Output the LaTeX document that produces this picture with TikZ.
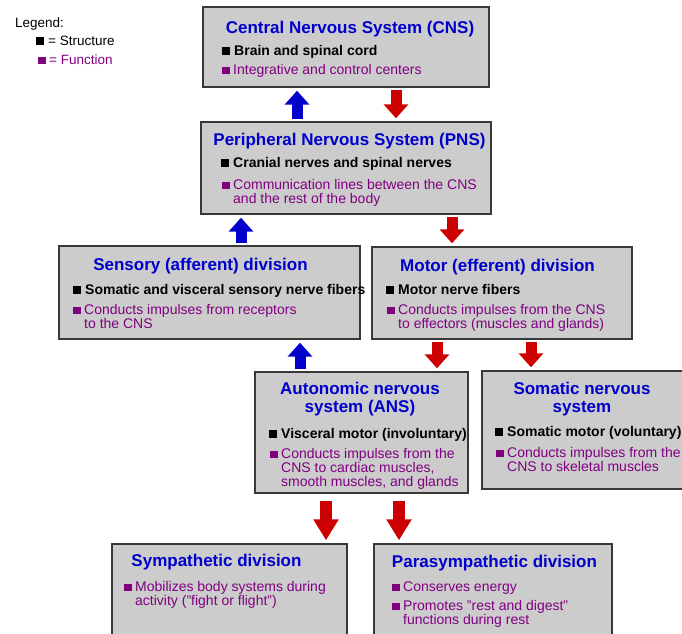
\documentclass[tikz,border=0pt]{standalone}
\usepackage{fontspec}
\setmainfont{Liberation Sans}
\usetikzlibrary{arrows.meta}
\definecolor{ttlblue}{RGB}{0,0,204}
\definecolor{funpurple}{RGB}{128,0,128}
\definecolor{upblue}{RGB}{0,0,204}
\definecolor{dnred}{RGB}{204,0,0}
\definecolor{boxgray}{RGB}{204,204,204}
\newcommand{\sbul}{\llap{\rule{8pt}{8pt}\hspace{4pt}}}
\newcommand{\fbul}{\llap{\textcolor{funpurple}{\rule{7.5pt}{7.5pt}}\hspace{3.5pt}}}

\begin{document}
\begin{tikzpicture}[x=1pt,y=-1pt]
    \tikzstyle{box}=[draw=black!78,line width=1.4pt,fill=boxgray,inner sep=0pt];
    \tikzstyle{ttl}=[anchor=base,inner sep=0pt,align=center,text=ttlblue,font=\fontsize{17}{18}\selectfont\bfseries];
    \tikzstyle{strc}=[anchor=base west,inner sep=0pt,font=\fontsize{14}{14}\selectfont\bfseries];
    \tikzstyle{func}=[anchor=base west,inner sep=0pt,align=left,text=funpurple,font=\fontsize{14}{14}\selectfont];
    \tikzstyle{lgd}=[anchor=base west,inner sep=0pt,font=\fontsize{13.5}{14}\selectfont];
    \tikzstyle{uparr}=[draw=upblue,line width=11pt,-{Triangle[width=24pt,length=14pt]},shorten <=2pt,shorten >=3pt];
    \tikzstyle{dnarr}=[draw=dnred,line width=11pt,-{Triangle[width=24pt,length=14pt]},shorten <=2pt,shorten >=3pt];
    \tikzstyle{bigdn}=[draw=dnred,line width=12pt,-{Triangle[width=24pt,length=21pt]},shorten <=7pt,shorten >=3pt];

    \useasboundingbox (0,0) rectangle (682,633);
    \clip (0,0) rectangle (682,633);

    \node[lgd] (lgd-t) at (15,27) {Legend:};
    \node[lgd] (lgd-s) at (48,45) {\sbul= Structure};
    \node[lgd,text=funpurple] (lgd-f) at (49,64) {\fbul= Function};

    \node[box,minimum width=286,minimum height=80] (cns) at (346,47) {};
    \node[box,minimum width=290,minimum height=92] (pns) at (346,168) {};
    \node[box,minimum width=301,minimum height=93] (sens) at (209.5,292.5) {};
    \node[box,minimum width=260,minimum height=92] (mot) at (502,293) {};
    \node[box,minimum width=213,minimum height=121] (ans) at (361.5,432.5) {};
    \node[box,minimum width=218,minimum height=118] (som) at (591,430) {};
    \node[box,minimum width=235,minimum height=136] (symp) at (229.5,612) {};
    \node[box,minimum width=238,minimum height=136] (para) at (493,612) {};

    \node[ttl] (cns-t) at (350,33) {Central Nervous System (CNS)};
    \node[strc] (cns-s) at (234,55) {\sbul Brain and spinal cord};
    \node[func] (cns-f) at (233,74) {\fbul Integrative and control centers};

    \node[ttl] (pns-t) at (349.5,145) {Peripheral Nervous System (PNS)};
    \node[strc] (pns-s) at (233,167) {\sbul Cranial nerves and spinal nerves};
    \node[func] (pns-f) at (233,203) {\fbul Communication lines between the CNS\\and the rest of the body};

    \node[ttl] (sens-t) at (200.5,270) {Sensory (afferent) division};
    \node[strc] (sens-s) at (85,294) {\sbul Somatic and visceral sensory nerve fibers};
    \node[func] (sens-f) at (84,328) {\fbul Conducts impulses from receptors\\to the CNS};

    \node[ttl] (mot-t) at (497.5,271) {Motor (efferent) division};
    \node[strc] (mot-s) at (398,294) {\sbul Motor nerve fibers};
    \node[func] (mot-f) at (398,328) {\fbul Conducts impulses from the CNS\\to effectors (muscles and glands)};

    \node[ttl] (ans-t) at (360,412) {Autonomic nervous\\system (ANS)};
    \node[strc] (ans-s) at (281,438) {\sbul Visceral motor (involuntary)};
    \node[func] (ans-f) at (281,486) {\fbul Conducts impulses from the\\CNS to cardiac muscles,\\smooth muscles, and glands};

    \node[ttl] (som-t) at (582,412) {Somatic nervous\\system};
    \node[strc] (som-s) at (507,436) {\sbul Somatic motor (voluntary)};
    \node[func] (som-f) at (507,471) {\fbul Conducts impulses from the\\CNS to skeletal muscles};

    \node[ttl] (symp-t) at (216.5,566) {Sympathetic division};
    \node[func] (symp-f) at (135,605) {\fbul Mobilizes body systems during\\activity ("fight or flight")};

    \node[ttl] (para-t) at (494.5,567) {Parasympathetic division};
    \node[func] (para-f1) at (403,591) {\fbul Conserves energy};
    \node[func] (para-f2) at (403,624) {\fbul Promotes "rest and digest"\\functions during rest};

    \draw[uparr] (pns.north -| 297,0) -- (cns.south -| 297,0);
    \draw[dnarr] (cns.south -| 396,0) -- (pns.north -| 396,0);
    \draw[uparr] (sens.north -| 241,0) -- (pns.south -| 241,0);
    \draw[dnarr] (pns.south -| 452,0) -- (mot.north -| 452,0);
    \draw[uparr] (ans.north -| 300,0) -- (sens.south -| 300,0);
    \draw[dnarr] (mot.south -| 437,0) -- (ans.north -| 437,0);
    \draw[dnarr] (mot.south -| 531,0) -- (som.north -| 531,0);
    \draw[bigdn] (ans.south -| 326,0) -- (symp.north -| 326,0);
    \draw[bigdn] (ans.south -| 399,0) -- (para.north -| 399,0);
\end{tikzpicture}
\end{document}
